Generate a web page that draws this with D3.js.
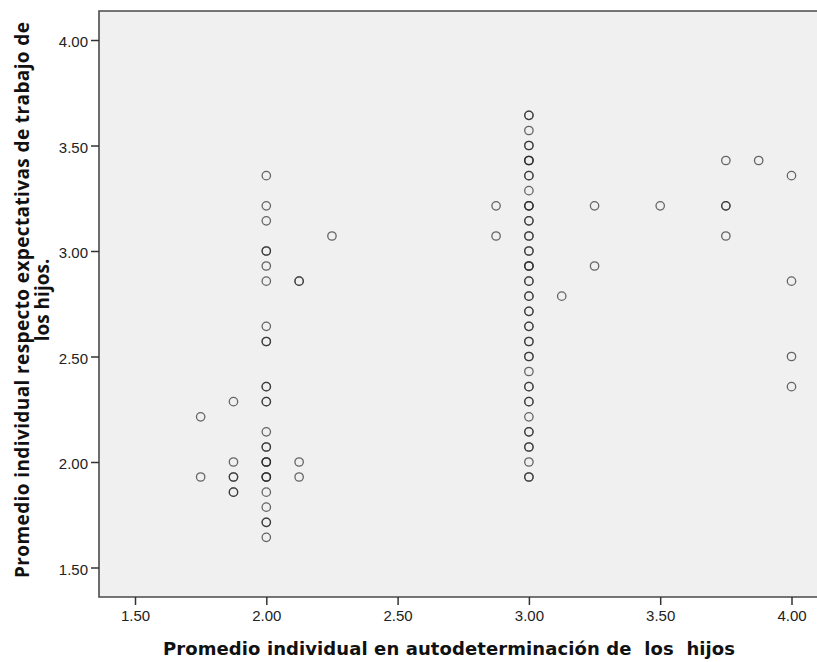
<!DOCTYPE html>
<html>
<head>
<meta charset="utf-8">
<script src="https://cdn.jsdelivr.net/npm/d3@7"></script>
<style>
  html, body { margin: 0; padding: 0; background: #fff; overflow: hidden; }
  svg { display: block; overflow: hidden; }
</style>
</head>
<body>
<svg id="chart" width="817" height="662"></svg>
<script>
// x categories (autodeterminación) and y values (expectativas)
// repeated values stand for overlapping cases (darker rings)
var xCats = [1.75, 1.875, 2.0, 2.125, 2.25, 2.875, 3.0, 3.125, 3.25, 3.5, 3.75, 3.875, 4.0];

var y175 = [2.214, 1.929];
var y1875 = [2.286, 2.0, 1.929, 1.929, 1.857, 1.857];
var y200 = [3.357, 3.214, 3.143, 3.0, 3.0, 2.929, 2.857, 2.643, 2.571, 2.571,
            2.357, 2.357, 2.286, 2.286, 2.143, 2.071, 2.071, 2.0, 2.0, 2.0,
            1.929, 1.929, 1.929, 1.857, 1.786, 1.714, 1.714, 1.643];
var y2125 = [2.857, 2.857, 2.0, 1.929];
var y225 = [3.071];
var y2875 = [3.214, 3.071];
var y300 = [3.643, 3.643, 3.571, 3.5, 3.5, 3.429, 3.429, 3.429, 3.357, 3.357,
            3.286, 3.214, 3.214, 3.214, 3.143, 3.143, 3.071, 3.071, 3.0, 3.0,
            2.929, 2.929, 2.929, 2.857, 2.857, 2.786, 2.786, 2.714, 2.714,
            2.643, 2.643, 2.571, 2.571, 2.5, 2.5, 2.429, 2.357, 2.357,
            2.286, 2.286, 2.214, 2.143, 2.143, 2.071, 2.071, 2.0, 1.929, 1.929];
var y3125 = [2.786];
var y325 = [3.214, 2.929];
var y350 = [3.214];
var y375 = [3.429, 3.214, 3.214, 3.071];
var y3875 = [3.429];
var y400 = [3.357, 2.857, 2.5, 2.357];

var yByCat = [y175, y1875, y200, y2125, y225, y2875, y300, y3125, y325, y350, y375, y3875, y400];

var tickValues = [1.5, 2.0, 2.5, 3.0, 3.5, 4.0];
var xTitle = "Promedio individual en autodeterminación de\u00a0 los\u00a0 hijos";
var yTitleLines = ["Promedio individual respecto expectativas de trabajo de", "los hijos."];

var points = [];
xCats.forEach(function (x, i) {
    yByCat[i].forEach(function (y) {
        points.push({ x: x, y: y });
    });
});

var svg = d3.select("#chart");

var plotLeft = 99, plotTop = 11, plotBottom = 597, plotRight = 817;

// 1.50 -> 135px, 4.00 -> 791.5px ; 4.00 -> 40px, 1.50 -> 567.5px
var x = d3.scaleLinear().domain([1.5, 4.0]).range([135, 791.5]);
var y = d3.scaleLinear().domain([1.5, 4.0]).range([567.5, 40]);

svg.append("rect")
    .attr("x", plotLeft)
    .attr("y", plotTop)
    .attr("width", plotRight - plotLeft)
    .attr("height", plotBottom - plotTop)
    .attr("fill", "#f0f0f0");

// frame: left, top and bottom only (right side runs off the picture)
svg.append("path")
    .attr("d", "M" + plotRight + "," + plotTop + "H" + plotLeft + "V" + plotBottom + "H" + plotRight)
    .attr("fill", "none")
    .attr("stroke", "#4a4a4a")
    .attr("stroke-width", 1.6);

var xAxis = d3.axisBottom(x)
    .tickValues(tickValues)
    .tickSize(8)
    .tickPadding(5)
    .tickFormat(d3.format(".2f"));

var yAxis = d3.axisLeft(y)
    .tickValues(tickValues)
    .tickSize(8)
    .tickPadding(3)
    .tickFormat(d3.format(".2f"));

var gx = svg.append("g")
    .attr("transform", "translate(0," + plotBottom + ")")
    .call(xAxis);

var gy = svg.append("g")
    .attr("transform", "translate(" + plotLeft + ",0)")
    .call(yAxis);

[gx, gy].forEach(function (g) {
    g.select(".domain").remove();
    g.selectAll(".tick line").attr("stroke", "#333").attr("stroke-width", 1.5);
    g.selectAll(".tick text")
        .attr("fill", "#222")
        .style("font-family", "'Liberation Sans', Arial, sans-serif")
        .style("font-size", "15px");
});
gy.selectAll(".tick text").attr("dy", "0.45em");

svg.append("g")
    .selectAll("circle")
    .data(points)
    .enter()
    .append("circle")
    .attr("cx", function (d) { return x(d.x); })
    .attr("cy", function (d) { return y(d.y); })
    .attr("r", 4.2)
    .attr("fill", "none")
    .attr("stroke", "#2a2a2a")
    .attr("stroke-opacity", 0.7)
    .attr("stroke-width", 1.3);

svg.append("text")
    .attr("x", 449)
    .attr("y", 655)
    .attr("text-anchor", "middle")
    .attr("textLength", 572)
    .attr("lengthAdjust", "spacing")
    .attr("fill", "#111")
    .style("font-family", "'DejaVu Sans', Verdana, sans-serif")
    .style("font-weight", "bold")
    .style("font-size", "18px")
    .text(xTitle);

var yTitle = svg.append("text")
    .attr("transform", "translate(29,300) rotate(-90)")
    .attr("text-anchor", "middle")
    .attr("fill", "#111")
    .style("font-family", "'Open Sans', 'Noto Sans', sans-serif")
    .style("font-weight", "bold")
    .style("font-size", "19px");

yTitleLines.forEach(function (line, i) {
    var t = yTitle.append("tspan")
        .attr("x", 0)
        .attr("dy", i === 0 ? 0 : 20)
        .text(line);
    if (i === 0) t.attr("textLength", 556).attr("lengthAdjust", "spacing");
});
</script>
</body>
</html>
